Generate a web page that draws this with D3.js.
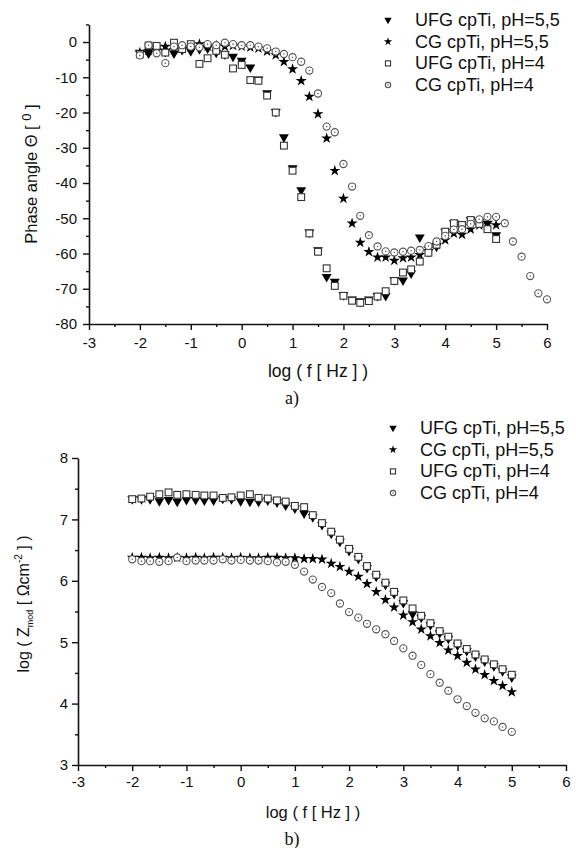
<!DOCTYPE html>
<html>
<head>
<meta charset="utf-8">
<script src="https://cdn.jsdelivr.net/npm/d3@7"></script>
<style>
  body { margin: 0; background: #fff; }
  svg { display: block; font-family: "Liberation Sans", Arial, sans-serif; }
</style>
</head>
<body>
<svg id="chart" width="576" height="848"></svg>
<script>
// log(f) values, 6 per decade
const logF = [-2, -1.83, -1.67, -1.5, -1.33, -1.17, -1, -0.83, -0.67, -0.5, -0.33, -0.17,
  0, 0.17, 0.33, 0.5, 0.67, 0.83, 1, 1.17, 1.33, 1.5, 1.67, 1.83, 2, 2.17, 2.33, 2.5, 2.67, 2.83,
  3, 3.17, 3.33, 3.5, 3.67, 3.83, 4, 4.17, 4.33, 4.5, 4.67, 4.83, 5, 5.17, 5.33, 5.5, 5.67, 5.83, 6]

const seriesNames = ['UFG cpTi, pH=5,5', 'CG cpTi, pH=5,5', 'UFG cpTi, pH=4', 'CG cpTi, pH=4']

// a) phase angle
const phaseUFG55 = [-3, -3.2, -2.5, -2.8, -3.2, -2.2, -2.6, -2.0, -1.8, -3.0, -3.5, -4.1, -5.3, -7.2, -10.6,
  -14.5, -19.8, -27, -35.8, -42, -54, -59, -66.6, -68, -71.8, -73, -73.5, -73, -72, -72, -67.5, -67.6,
  -65.6, -55.4, -59.5, -58, -53.8, -51.4, -52.5, -50.5, -51, -51.5, -54.8]
const phaseCG55 = [-3, -2.5, -1.5, -1.3, -2.2, -1.8, -1.5, -0.6, -1.2, -1.0, -1.3, -1.0, -1.2, -1.5, -1.8,
  -2.6, -3.7, -5.6, -7.7, -11, -15.5, -20.4, -27.3, -36.5, -44.4, -51.4, -56.9, -59.5, -61.1, -61.1, -62,
  -61.3, -61.1, -60.4, -58.5, -57.5, -56.2, -54.3, -54.6, -53.1, -52, -51.3, -51.9]
const phaseUFG4 = [-3.5, -1.0, -1.1, -3.0, -0.2, -2.0, -0.6, -6.2, -4.6, -2.5, -3.6, -7.5, -6.5, -10.8, -11,
  -15.2, -20, -29.4, -36.5, -44, -54.3, -59.5, -64.2, -69.2, -72, -73.4, -74, -73.5, -72.2, -70.7, -67.8,
  -65.4, -64.5, -62.3, -59.8, -57.5, -53.8, -51.4, -51.9, -50.5, -51.6, -53.1, -55.9]
const phaseCG4 = [-3.8, -0.9, -3.2, -6.0, -1.3, -0.9, -1.3, -1.5, -0.6, -0.9, -0.2, -0.6, -0.9, -0.9, -1.3,
  -1.8, -2.7, -3.4, -4.3, -5.6, -8.1, -14.6, -24, -25.6, -34.6, -41, -49.3, -54.8, -58, -59.4, -59.7,
  -59.5, -59.2, -59, -57.9, -56.6, -55, -53.2, -53.1, -51.6, -50.3, -49.6, -49.6, -51.4, -56.6, -60.9,
  -66.4, -71.3, -73]

// b) log |Z|
const zmodUFG55 = [7.33, 7.33, 7.33, 7.30, 7.32, 7.29, 7.32, 7.32, 7.31, 7.31, 7.34, 7.33, 7.30, 7.29, 7.29,
  7.31, 7.28, 7.23, 7.18, 7.10, 7.04, 6.91, 6.77, 6.64, 6.49, 6.36, 6.21, 6.07, 5.94, 5.79, 5.64, 5.46,
  5.40, 5.28, 5.15, 5.06, 4.95, 4.86, 4.77, 4.69, 4.61, 4.53, 4.43]
const zmodCG55 = [6.38, 6.38, 6.37, 6.38, 6.37, 6.38, 6.37, 6.38, 6.37, 6.38, 6.38, 6.37, 6.38, 6.37, 6.37,
  6.38, 6.38, 6.37, 6.37, 6.36, 6.36, 6.35, 6.28, 6.23, 6.15, 6.07, 5.95, 5.82, 5.69, 5.57, 5.44, 5.33,
  5.21, 5.10, 4.99, 4.87, 4.78, 4.67, 4.56, 4.47, 4.37, 4.29, 4.19]
const zmodUFG4 = [7.33, 7.34, 7.37, 7.41, 7.44, 7.40, 7.41, 7.40, 7.39, 7.39, 7.35, 7.36, 7.39, 7.41, 7.35,
  7.34, 7.31, 7.29, 7.22, 7.20, 7.07, 6.94, 6.80, 6.67, 6.52, 6.39, 6.24, 6.10, 5.97, 5.82, 5.68, 5.55,
  5.43, 5.31, 5.18, 5.09, 4.98, 4.89, 4.80, 4.72, 4.64, 4.56, 4.47]
const zmodCG4 = [6.35, 6.32, 6.32, 6.31, 6.32, 6.38, 6.32, 6.33, 6.33, 6.33, 6.35, 6.33, 6.34, 6.33, 6.33,
  6.32, 6.30, 6.31, 6.26, 6.15, 6.02, 5.90, 5.80, 5.63, 5.49, 5.40, 5.30, 5.21, 5.13, 5.02, 4.90, 4.78,
  4.63, 4.48, 4.34, 4.21, 4.07, 3.96, 3.85, 3.76, 3.71, 3.62, 3.54]

const xTicks = [-3, -2, -1, 0, 1, 2, 3, 4, 5, 6]
const xMinor = [-2.5, -1.5, -0.5, 0.5, 1.5, 2.5, 3.5, 4.5, 5.5]
const phaseTicks = [0, -10, -20, -30, -40, -50, -60, -70, -80]
const phaseMinor = [5, -5, -15, -25, -35, -45, -55, -65, -75]
const zmodTicks = [3, 4, 5, 6, 7, 8]
const zmodMinor = [3.5, 4.5, 5.5, 6.5, 7.5]

const svg = d3.select('#chart')
const kinds = ['tri', 'star', 'square', 'circle']

function marker (g, kind, x, y, small) {
  const s = small ? 0.75 : 1
  if (kind === 'tri') {
    g.append('path').attr('d', d3.symbol(d3.symbolTriangle, 42 * s * s)())
      .attr('transform', `translate(${x},${y}) rotate(180)`).attr('fill', '#000')
  } else if (kind === 'star') {
    g.append('path').attr('d', d3.symbol(d3.symbolStar, 38 * s * s)())
      .attr('transform', `translate(${x},${y})`).attr('fill', '#000')
  } else if (kind === 'square') {
    const h = 3.4 * s
    g.append('rect').attr('x', x - h).attr('y', y - h).attr('width', 2 * h).attr('height', 2 * h)
      .attr('fill', '#fff').attr('stroke', '#333').attr('stroke-width', 1.1)
  } else {
    g.append('circle').attr('cx', x).attr('cy', y).attr('r', 3.6 * s)
      .attr('fill', '#fff').attr('stroke', '#555').attr('stroke-width', 1.1)
    g.append('circle').attr('cx', x).attr('cy', y).attr('r', 0.8).attr('fill', '#666')
  }
}

function panel (cfg) {
  const x = d3.scaleLinear().domain([-3, 6]).range(cfg.xRange)
  const y = d3.scaleLinear().domain(cfg.yDomain).range(cfg.yRange)
  const g = svg.append('g')

  const xAxis = g.append('g').attr('transform', `translate(0,${cfg.yRange[0]})`)
    .call(d3.axisBottom(x).tickValues(xTicks).tickSize(6).tickSizeOuter(0)
      .tickPadding(cfg.xPad).tickFormat(d => String(d)))
  g.append('g').attr('transform', `translate(0,${cfg.yRange[0]})`)
    .call(d3.axisBottom(x).tickValues(xMinor).tickSize(3).tickFormat(''))
    .call(a => a.select('.domain').remove())

  const yAxis = g.append('g').attr('transform', `translate(${cfg.xRange[0]},0)`)
    .call(d3.axisLeft(y).tickValues(cfg.yTicks).tickSize(6).tickSizeOuter(0)
      .tickPadding(cfg.yPad).tickFormat(d => String(d)))
  g.append('g').attr('transform', `translate(${cfg.xRange[0]},0)`)
    .call(d3.axisLeft(y).tickValues(cfg.yMinor).tickSize(3).tickFormat(''))
    .call(a => a.select('.domain').remove())

  g.selectAll('.domain').attr('stroke', '#111').attr('stroke-width', 1.6)
  g.selectAll('.tick line').attr('stroke', '#111').attr('stroke-width', 1.4)
  for (const a of [xAxis, yAxis]) {
    a.attr('font-family', null).attr('font-size', 15)
    a.selectAll('text').attr('fill', '#111')
  }

  // data
  cfg.series.forEach((vals, i) => {
    const sg = g.append('g')
    vals.forEach((v, j) => marker(sg, kinds[i], x(logF[j]), y(v), false))
  })

  // legend
  seriesNames.forEach((name, i) => {
    const ly = cfg.legend.y + i * 21.7
    marker(g, kinds[i], cfg.legend.x, ly, true)
    g.append('text').attr('x', cfg.legend.x + 27).attr('y', ly + 6)
      .attr('font-size', 18).attr('fill', '#111').text(name)
  })

  // x title and caption
  g.append('text').attr('x', cfg.xTitle[0]).attr('y', cfg.xTitle[1])
    .attr('text-anchor', 'middle').attr('font-size', cfg.titleSize).attr('fill', '#111')
    .text('log ( f [ Hz ] )')
  g.append('text').attr('x', cfg.caption[0]).attr('y', cfg.caption[1])
    .attr('text-anchor', 'middle').attr('font-size', 18).attr('fill', '#111')
    .attr('font-family', '"Liberation Serif", "Times New Roman", serif')
    .text(cfg.captionText)

  return g
}

// a) phase angle
const ga = panel({
  xRange: [89, 547],
  yDomain: [-80, 5],
  yRange: [324, 24.4],
  yTicks: phaseTicks,
  yMinor: phaseMinor,
  xPad: 7,
  yPad: 6,
  series: [phaseUFG55, phaseCG55, phaseUFG4, phaseCG4],
  legend: { x: 388, y: 20 },
  xTitle: [318, 377],
  titleSize: 17.5,
  caption: [292, 404],
  captionText: 'a)'
})
const ta = ga.append('text').attr('transform', 'translate(37,174) rotate(-90)')
  .attr('text-anchor', 'middle').attr('font-size', 16.5).attr('fill', '#111')
ta.append('tspan').text('Phase angle Θ [ ')
ta.append('tspan').attr('font-size', 13).attr('dy', -6).text('0')
ta.append('tspan').attr('dy', 6).text(' ]')

// b) impedance modulus
const gb = panel({
  xRange: [78, 566],
  yDomain: [3, 8],
  yRange: [765, 458],
  yTicks: zmodTicks,
  yMinor: zmodMinor,
  xPad: 5,
  yPad: 4,
  series: [zmodUFG55, zmodCG55, zmodUFG4, zmodCG4],
  legend: { x: 393, y: 428 },
  xTitle: [313, 818],
  titleSize: 16.5,
  caption: [292, 845],
  captionText: 'b)'
})
const tb = gb.append('text').attr('transform', 'translate(29,604) rotate(-90)')
  .attr('text-anchor', 'middle').attr('font-size', 16).attr('fill', '#111')
tb.append('tspan').text('log ( Z')
tb.append('tspan').attr('font-size', 9).attr('dy', 4).text('mod')
tb.append('tspan').attr('dy', -4).text(' [ Ωcm')
tb.append('tspan').attr('font-size', 10).attr('dy', -7).text('-2')
tb.append('tspan').attr('dy', 7).text(' ] )')
</script>
</body>
</html>
